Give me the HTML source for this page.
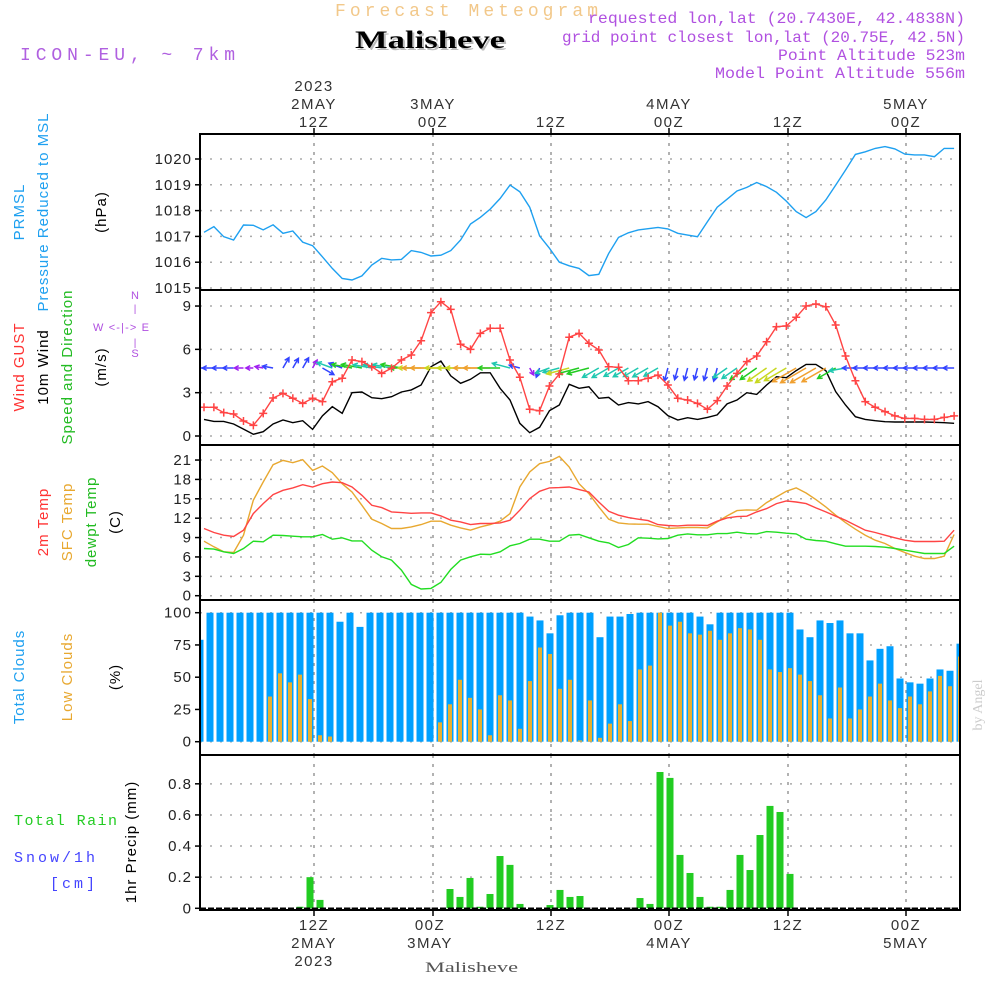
<!DOCTYPE html>
<html><head><meta charset="utf-8"><style>
html,body{margin:0;padding:0;background:#fff;}
svg{display:block;font-family:"Liberation Sans",sans-serif;}
.t{font-size:15px;fill:#333;letter-spacing:1.5px;}
.m{font-family:"Liberation Mono",monospace;}
</style></head><body>
<svg id="chart" width="1000" height="1000" viewBox="0 0 1000 1000">
<rect width="1000" height="1000" fill="#fff"/>
<text class="m" x="335" y="16" textLength="263" lengthAdjust="spacing" font-size="18" fill="#f2c88a">Forecast Meteogram</text>
<text x="357" y="50" textLength="150" lengthAdjust="spacingAndGlyphs" font-size="25" font-weight="bold" font-family="Liberation Serif,serif" fill="#bbb">Malisheve</text>
<text x="355" y="48" textLength="150" lengthAdjust="spacingAndGlyphs" font-size="25" font-weight="bold" font-family="Liberation Serif,serif" fill="#000">Malisheve</text>
<text class="m" x="20" y="60" textLength="215" lengthAdjust="spacing" font-size="18" fill="#b060e0">ICON-EU, ~ 7km</text>
<g class="m" font-size="16" fill="#b050e0">
<text x="588" y="23" textLength="377" lengthAdjust="spacingAndGlyphs">requested lon,lat (20.7430E, 42.4838N)</text>
<text x="562" y="42" textLength="403" lengthAdjust="spacingAndGlyphs">grid point closest lon,lat (20.75E, 42.5N)</text>
<text x="778" y="60" textLength="187" lengthAdjust="spacingAndGlyphs">Point Altitude 523m</text>
<text x="715" y="78" textLength="250" lengthAdjust="spacingAndGlyphs">Model Point Altitude 556m</text>
</g>
<g class="t" text-anchor="middle">
<text x="314" y="91">2023</text><text x="314" y="109">2MAY</text><text x="314" y="127">12Z</text>
<text x="433" y="109">3MAY</text><text x="433" y="127">00Z</text>
<text x="551" y="127">12Z</text>
<text x="669" y="109">4MAY</text><text x="669" y="127">00Z</text>
<text x="788" y="127">12Z</text>
<text x="906" y="109">5MAY</text><text x="906" y="127">00Z</text>
</g>
<g class="t" text-anchor="middle">
<text x="314" y="930">12Z</text><text x="314" y="948">2MAY</text><text x="314" y="966">2023</text>
<text x="430" y="930">00Z</text><text x="430" y="948">3MAY</text>
<text x="551" y="930">12Z</text>
<text x="669" y="930">00Z</text><text x="669" y="948">4MAY</text>
<text x="788" y="930">12Z</text>
<text x="906" y="930">00Z</text><text x="906" y="948">5MAY</text>
</g>
<text x="425" y="972" textLength="93" lengthAdjust="spacingAndGlyphs" font-size="15" font-family="Liberation Serif,serif" fill="#555">Malisheve</text>
<text transform="translate(982,705) rotate(-90)" text-anchor="middle" font-size="14" font-family="Liberation Serif,serif" fill="#ccc">by Angel</text>

<g font-size="15" letter-spacing="1">
<text transform="translate(24,212) rotate(-90)" text-anchor="middle" fill="#1ea0f0">PRMSL</text>
<text transform="translate(48,212) rotate(-90)" text-anchor="middle" fill="#1ea0f0">Pressure Reduced to MSL</text>
<text transform="translate(106,212) rotate(-90)" text-anchor="middle" fill="#000">(hPa)</text>
<text transform="translate(24,367) rotate(-90)" text-anchor="middle" fill="#ff3333">Wind GUST</text>
<text transform="translate(48,367) rotate(-90)" text-anchor="middle" fill="#000">10m Wind</text>
<text transform="translate(72,367) rotate(-90)" text-anchor="middle" fill="#22bb22">Speed and Direction</text>
<text transform="translate(106,367) rotate(-90)" text-anchor="middle" fill="#000">(m/s)</text>
<text transform="translate(48,522) rotate(-90)" text-anchor="middle" fill="#ff3333">2m Temp</text>
<text transform="translate(72,522) rotate(-90)" text-anchor="middle" fill="#e8a830">SFC Temp</text>
<text transform="translate(96,522) rotate(-90)" text-anchor="middle" fill="#22bb22">dewpt Temp</text>
<text transform="translate(120,522) rotate(-90)" text-anchor="middle" fill="#000">(C)</text>
<text transform="translate(24,677) rotate(-90)" text-anchor="middle" fill="#1ea0f0">Total Clouds</text>
<text transform="translate(72,677) rotate(-90)" text-anchor="middle" fill="#e8a830">Low Clouds</text>
<text transform="translate(120,677) rotate(-90)" text-anchor="middle" fill="#000">(%)</text>
<text transform="translate(136,842) rotate(-90)" text-anchor="middle" fill="#000">1hr Precip (mm)</text>
<text class="m" x="14" y="825" textLength="104" lengthAdjust="spacing" fill="#22cc22">Total  Rain</text>
<text class="m" x="14" y="862" textLength="82" lengthAdjust="spacing" fill="#4444ff">Snow/1h</text>
<text class="m" x="50" y="888" textLength="46" lengthAdjust="spacing" fill="#4444ff">[cm]</text>
</g>
<g font-size="11" fill="#b050e0" text-anchor="middle">
<text x="135" y="299">N</text>
<text x="93" y="331" text-anchor="start" textLength="56" lengthAdjust="spacing">W &lt;-|-&gt; E</text>
<text x="135" y="357">S</text>
<text x="135" y="312" font-size="10">|</text>
<text x="135" y="346" font-size="10">|</text>
</g>
<g id="plot"></g>
</svg>
<script>
const pressure=[1017.16,1017.38,1016.99,1016.86,1017.44,1017.43,1017.25,1017.45,1017.12,1017.21,1016.78,1016.64,1016.21,1015.76,1015.37,1015.31,1015.47,1015.89,1016.15,1016.09,1016.11,1016.45,1016.38,1016.24,1016.27,1016.45,1016.86,1017.48,1017.74,1018.06,1018.47,1018.99,1018.73,1018.13,1017.02,1016.54,1016.0,1015.86,1015.76,1015.48,1015.53,1016.34,1016.96,1017.14,1017.25,1017.30,1017.35,1017.29,1017.12,1017.05,1016.99,1017.57,1018.13,1018.44,1018.76,1018.90,1019.09,1018.93,1018.71,1018.37,1017.96,1017.73,1017.96,1018.41,1018.99,1019.57,1020.18,1020.28,1020.41,1020.48,1020.39,1020.19,1020.16,1020.16,1020.09,1020.41,1020.41];
const gust=[1.99,1.99,1.62,1.52,1.04,0.74,1.57,2.63,2.95,2.61,2.26,2.61,2.38,3.76,4.0,5.26,5.15,4.80,4.34,4.69,5.26,5.61,6.60,8.54,9.30,8.77,6.35,6.0,7.11,7.46,7.46,5.26,4.07,1.85,1.75,3.46,4.29,6.84,7.11,6.42,5.96,4.80,4.76,3.83,3.83,4.0,4.22,3.53,2.61,2.49,2.26,1.85,2.45,3.46,4.34,5.15,5.54,6.53,7.57,7.62,8.22,9.0,9.14,8.95,7.69,5.54,3.83,2.38,1.99,1.69,1.39,1.22,1.22,1.15,1.15,1.29,1.39];
const wind=[1.15,1.01,1.01,0.83,0.48,0.12,0.30,0.83,1.11,0.92,1.06,0.46,1.39,2.03,1.57,3.0,3.05,2.65,2.58,2.72,3.05,3.19,3.53,4.80,5.19,4.16,3.65,3.93,4.38,4.38,3.30,2.49,0.88,0.23,0.60,1.75,2.15,3.58,3.30,3.41,2.61,2.67,2.15,2.31,2.22,2.38,2.03,1.41,1.11,1.27,1.15,1.29,1.46,2.22,2.49,3.0,2.88,3.53,4.11,4.04,4.53,4.96,4.96,4.53,3.07,2.15,1.34,1.15,1.06,0.99,0.97,0.97,0.97,0.97,0.95,0.92,0.88];
const windDir=[180,180,180,180,180,180,170,170,60,60,60,60,330,160,160,170,170,170,170,170,170,180,180,180,180,180,180,180,180,180,180,165,165,300,250,200,195,195,195,195,210,210,210,210,210,210,210,255,255,255,255,255,255,215,215,215,215,215,215,210,210,210,210,210,210,190,180,180,180,180,180,180,180,180,180,180,180];
const t2m=[10.40,9.78,9.37,9.16,10.14,12.71,14.26,15.65,16.32,16.68,17.19,16.83,17.34,17.60,17.50,16.83,15.54,14.0,13.64,12.97,12.87,12.76,12.82,12.82,12.35,11.68,11.43,11.01,11.17,11.17,11.27,11.68,13.23,15.03,16.16,16.68,16.73,16.83,16.42,16.06,14.51,13.07,12.46,12.09,11.84,11.63,11.01,10.86,10.81,10.91,10.91,10.86,11.53,12.04,12.25,12.30,12.97,13.48,14.26,14.67,14.51,14.26,13.59,12.97,12.30,11.68,10.91,10.14,9.78,9.37,8.96,8.59,8.39,8.39,8.39,8.44,10.14];
const sfcTemp=[8.44,7.57,6.79,6.69,9.37,14.77,17.60,20.28,20.95,20.59,21.05,19.40,20.07,19.04,17.34,16.06,14.0,11.84,11.17,10.40,10.40,10.65,11.01,11.53,11.53,10.91,10.50,10.14,10.65,11.01,11.53,12.71,16.83,19.15,20.43,20.79,21.56,19.92,17.34,15.80,13.74,11.84,11.27,11.12,11.07,11.07,10.71,10.40,10.50,10.55,10.55,10.50,11.43,12.35,13.18,13.28,13.23,14.41,15.29,16.16,16.68,15.90,14.87,13.74,12.46,11.32,10.29,9.37,8.59,8.08,7.31,6.69,6.12,5.76,5.76,6.12,9.47];
const dewpt=[7.31,7.21,6.79,6.54,7.31,8.44,8.34,9.37,9.32,9.21,9.11,9.11,9.47,8.75,8.96,8.49,8.49,7.05,6.02,5.51,3.96,1.75,1.03,1.13,2.06,4.07,5.51,6.02,6.43,6.38,6.79,7.72,8.08,8.75,8.75,8.44,8.44,9.37,9.47,8.96,8.44,8.18,7.46,7.93,8.96,8.90,8.80,8.85,9.37,9.57,9.42,9.42,9.62,9.62,9.83,9.62,9.57,9.93,9.83,9.68,9.57,8.75,8.54,8.44,8.03,7.67,7.67,7.67,7.62,7.51,7.31,7.05,6.79,6.54,6.54,6.54,7.67];
const totalClouds=[79,100,100,100,100,100,100,100,100,100,100,100,100,100,93,100,89,100,100,100,100,100,100,100,100,100,100,100,100,100,100,100,100,97,94,84,98,100,100,100,81,97,97,99,100,100,100,100,100,100,97,91,100,100,100,100,100,100,100,100,87,81,94,92,94,84,84,63,72,74,49,46,45,49,56,55,76];
const lowClouds=[0,0,0,0,0,0,0,35,53,46,52,33,5,4,0,0,0,0,0,0,0,0,0,0,15,29,48,34,25,5,36,32,10,47,73,68,41,48,1,32,3,14,29,16,56,59,100,90,93,84,83,86,79,84,88,87,79,56,54,57,52,47,36,18,42,18,25,35,45,32,26,35,29,39,51,43,66];
const precip=[0,0,0,0,0,0,0,0,0,0,0.01,0.2,0.054,0,0,0,0,0,0,0,0,0,0,0,0,0.124,0.073,0.195,0.01,0.092,0.336,0.279,0.028,0,0,0.021,0.118,0.073,0.079,0,0,0,0,0,0.066,0.028,0.876,0.838,0.343,0.227,0.073,0.01,0.01,0.118,0.343,0.246,0.471,0.658,0.619,0.221,0,0,0,0,0,0,0,0,0,0,0,0,0,0,0,0,0];
const pressTicks=[1015,1016,1017,1018,1019,1020];
const windTicks=[0,3,6,9];
const tempTicks=[0,3,6,9,12,15,18,21];
const cloudTicks=[0,25,50,75,100];
const precipTicks=[0,0.2,0.4,0.6,0.8];
const timeTickX=[314,433,551,669,788,906];

const NS='http://www.w3.org/2000/svg';
const plot=document.getElementById('plot');
function mk(tag,attrs,parent){const e=document.createElementNS(NS,tag);for(const k in attrs)e.setAttribute(k,attrs[k]);(parent||plot).appendChild(e);return e;}
const X0=200,X1=960;
const lx=k=>204+k*9.87;
const bx=i=>200+i*10;
const yP=v=>288-(v-1015)*25.8;
const yW=v=>436-v*14.44;
const yT=v=>595.7-v*6.46;
const yC=v=>741.7-v*1.29;
const yR=v=>908.3-v*155.6;
const panels=[[134,290,pressTicks,yP,v=>String(v),'pressure'],[290,445,windTicks,yW,v=>String(v),'wind'],[445,600,tempTicks,yT,v=>String(v),'temp'],[600,755,cloudTicks,yC,v=>String(v),'cloud'],[755,910,precipTicks,yR,v=>v===0?'0':v.toFixed(1),'precip']];
const clips={};
panels.forEach((p,pi)=>{
  const g=mk('g',{});
  
  
  const cp=mk('clipPath',{id:'clip'+pi});
  mk('rect',{x:X0,y:p[0],width:X1-X0,height:p[1]-p[0]},cp);
  clips[p[5]]='url(#clip'+pi+')';
  p[2].forEach(v=>{
    const y=p[3](v);
    const gl=mk('line',{x1:X0,x2:X1,y1:y,y2:y,stroke:'#aaa','stroke-width':1.5,'stroke-dasharray':'2,8'},g);
    
    
    mk('line',{x1:X0-5,x2:X0,y1:y,y2:y,stroke:'#000','stroke-width':1.5},g);
    const t=mk('text',{x:X0-8,y:y+5,'text-anchor':'end','font-size':15,fill:'#222','letter-spacing':'1'},g);
    t.textContent=p[4](v);
    
    
  });
  timeTickX.forEach(x=>{
    const vl=mk('line',{x1:x,x2:x,y1:p[0],y2:p[1],stroke:'#999','stroke-width':1.5,'stroke-dasharray':'3,6'},g);
    
    
  });
});
function line(vals,xs,ys,color,name,clip,w){
  const d=vals.map((v,k)=>(k?'L':'M')+xs(k).toFixed(1)+','+ys(v).toFixed(1)).join('');
  const e=mk('path',{d:d,fill:'none',stroke:color,'stroke-width':w||1.4,'clip-path':clip});
  
  
  return e;
}
const cg=mk('g',{'clip-path':clips.cloud});


totalClouds.forEach((v,i)=>{
  const r=mk('rect',{x:bx(i)-3.5,y:yC(v),width:7,height:yC(0)-yC(v),fill:'#00a0ff'},cg);
  
  
});
lowClouds.forEach((v,i)=>{
  const r=mk('rect',{x:bx(i)-2,y:yC(v),width:4,height:yC(0)-yC(v),fill:'#e8b030'},cg);
  
  
});
const pg=mk('g',{'clip-path':clips.precip});


precip.forEach((v,i)=>{
  if(v<=0)return;
  const r=mk('rect',{x:bx(i)-3.5,y:yR(v),width:7,height:yR(0)-yR(v),fill:'#22cc22'},pg);
  
  
});
const sl=mk('line',{x1:X0,x2:X1,y1:yR(0),y2:yR(0),stroke:'#000','stroke-width':1.5,'stroke-dasharray':'6,2'});


line(pressure,lx,yP,'#1ea0f0','pressure-line',clips.pressure);
line(sfcTemp,lx,yT,'#e8a830','sfc-temp-line',clips.temp);
line(t2m,lx,yT,'#ff4444','t2m-line',clips.temp);
line(dewpt,lx,yT,'#22dd22','dewpt-line',clips.temp);
line(wind,lx,yW,'#000','wind-speed-line',clips.wind);
function wcol(s){return s<0.6?'#a020f0':s<1.7?'#3344ff':s<2.8?'#20c8b0':s<3.5?'#22cc22':s<4.3?'#c8d820':'#f0a030';}
const ag=mk('g',{'clip-path':clips.wind});


wind.forEach((s,k)=>{
  const a=windDir[k]*Math.PI/180,L=7+s*4.5;
  const x1=lx(k),y1=368,x2=x1+L*Math.cos(a),y2=y1-L*Math.sin(a);
  const c=wcol(s);
  const h1=a+Math.PI-0.5,h2=a+Math.PI+0.5;
  const d='M'+x1+','+y1+'L'+x2+','+y2+'M'+(x2+5*Math.cos(h1))+','+(y2-5*Math.sin(h1))+'L'+x2+','+y2+'L'+(x2+5*Math.cos(h2))+','+(y2-5*Math.sin(h2));
  const e=mk('path',{d:d,stroke:c,'stroke-width':1.5,fill:'none'},ag);
  
  
});
line(gust,lx,yW,'#ff4444','gust-line',clips.wind);
const mg=mk('g',{'clip-path':clips.wind});


gust.forEach((v,k)=>{
  const x=lx(k),y=yW(v);
  const e=mk('path',{d:'M'+(x-4)+','+y+'h8M'+x+','+(y-4)+'v8',stroke:'#ff4444','stroke-width':1.5},mg);
  
  
});
panels.forEach(p=>{
  const r=mk('rect',{x:X0,y:p[0],width:X1-X0,height:p[1]-p[0],fill:'none',stroke:'#000','stroke-width':2});
  
  
});
timeTickX.forEach(x=>{
  const t=mk('line',{x1:x,x2:x,y1:128,y2:134,stroke:'#000','stroke-width':1.5});
  
  
  const b=mk('line',{x1:x,x2:x,y1:910,y2:916,stroke:'#000','stroke-width':1.5});
  
  
});
</script>
</body></html>
